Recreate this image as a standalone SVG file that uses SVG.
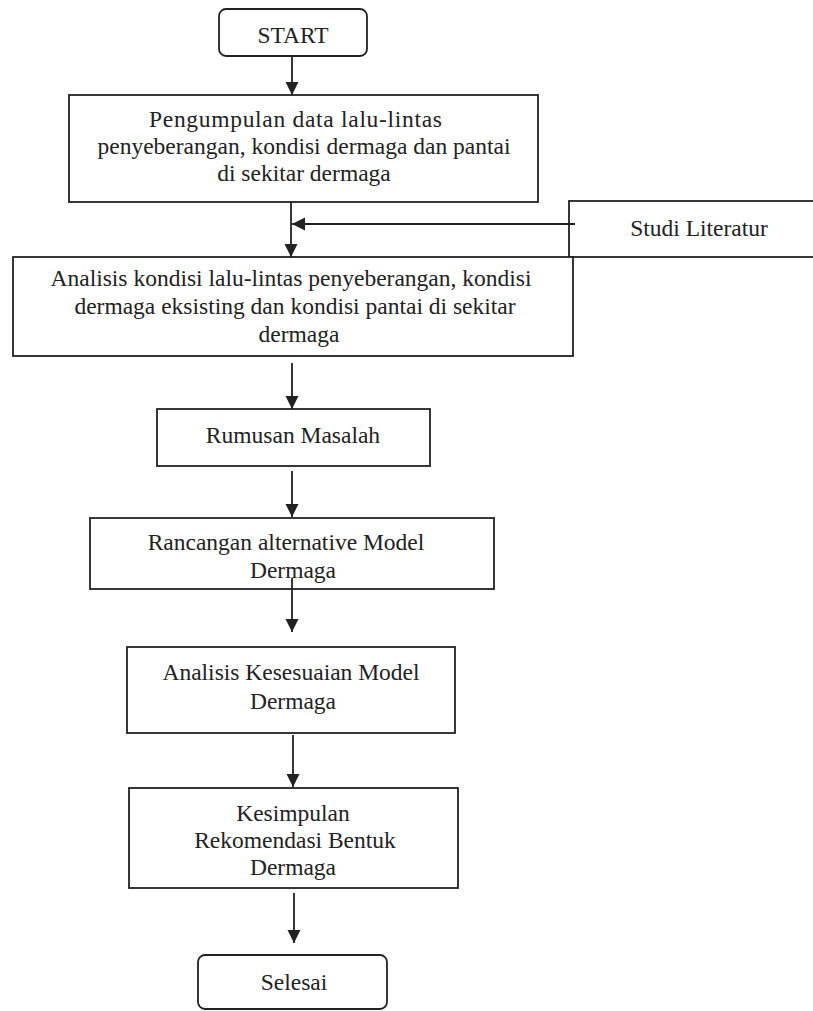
<svg xmlns="http://www.w3.org/2000/svg" width="813" height="1011" viewBox="0 0 813 1011">
<style>
.box{fill:#fff;stroke:#222;stroke-width:1.8}
.t{font-family:"Liberation Serif","Times New Roman",serif;font-size:23.5px;fill:#222;text-anchor:middle}
.c{stroke:#222;stroke-width:1.8;fill:none}
</style>
<defs>
<marker id="ah" markerWidth="14" markerHeight="14" refX="13" refY="7" orient="auto" markerUnits="userSpaceOnUse">
<path d="M0,0.5 L13,7 L0,13.5 Z" fill="#222"/>
</marker>
</defs>
<rect width="813" height="1011" fill="#fff"/>
<g id="start">
<rect class="box" x="219" y="9" width="148" height="47" rx="7"/>
<text class="t" x="293" y="43">START</text>
</g>
<g id="pengumpulan">
<rect class="box" x="69" y="95" width="469" height="107"/>
<text class="t" x="295.5" y="127" textLength="293" lengthAdjust="spacing">Pengumpulan data lalu-lintas</text>
<text class="t" x="304" y="154">penyeberangan, kondisi dermaga dan pantai</text>
<text class="t" x="304" y="181">di sekitar dermaga</text>
</g>
<g id="studi">
<rect class="box" x="569" y="201" width="260" height="56"/>
<text class="t" x="699" y="236">Studi Literatur</text>
</g>
<g id="analisis-kondisi">
<rect class="box" x="13" y="257" width="560" height="99"/>
<text class="t" x="291" y="286">Analisis kondisi lalu-lintas penyeberangan, kondisi</text>
<text class="t" x="295" y="314">dermaga eksisting dan kondisi pantai di sekitar</text>
<text class="t" x="299" y="342">dermaga</text>
</g>
<g id="rumusan">
<rect class="box" x="157" y="409" width="273" height="57"/>
<text class="t" x="293" y="443">Rumusan Masalah</text>
</g>
<g id="rancangan">
<rect class="box" x="90" y="518" width="404" height="71"/>
<text class="t" x="286" y="550">Rancangan alternative Model</text>
<text class="t" x="293" y="578">Dermaga</text>
</g>
<g id="analisis-kesesuaian">
<rect class="box" x="127" y="647" width="328" height="86"/>
<text class="t" x="291" y="680">Analisis Kesesuaian Model</text>
<text class="t" x="293" y="709">Dermaga</text>
</g>
<g id="kesimpulan">
<rect class="box" x="129" y="788" width="329" height="100"/>
<text class="t" x="293" y="821">Kesimpulan</text>
<text class="t" x="295" y="848">Rekomendasi Bentuk</text>
<text class="t" x="293" y="875">Dermaga</text>
</g>
<g id="selesai">
<rect class="box" x="198" y="955" width="189" height="54" rx="7"/>
<text class="t" x="294" y="990">Selesai</text>
</g>
<g id="connectors">
<line class="c" x1="292" y1="56" x2="292" y2="95" marker-end="url(#ah)"/>
<line class="c" x1="291" y1="202" x2="291" y2="257" marker-end="url(#ah)"/>
<line class="c" x1="575" y1="224" x2="292" y2="224" marker-end="url(#ah)"/>
<line class="c" x1="292" y1="363" x2="292" y2="409" marker-end="url(#ah)"/>
<line class="c" x1="292" y1="471" x2="292" y2="517" marker-end="url(#ah)"/>
<line class="c" x1="292" y1="578" x2="292" y2="632" marker-end="url(#ah)"/>
<line class="c" x1="293" y1="735" x2="293" y2="787" marker-end="url(#ah)"/>
<line class="c" x1="294" y1="893" x2="294" y2="943" marker-end="url(#ah)"/>
</g>
</svg>
